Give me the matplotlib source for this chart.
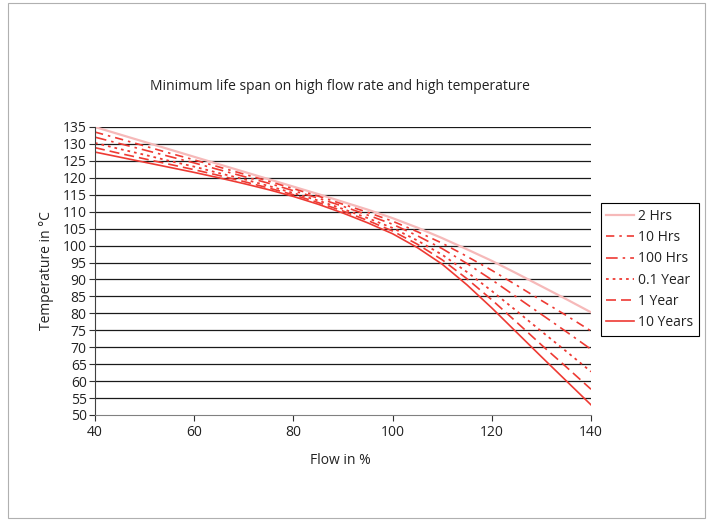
import matplotlib
matplotlib.use("Agg")
import matplotlib.pyplot as plt
from matplotlib.patches import Rectangle

# flow in %
flow = [40, 45, 50, 55, 60, 65, 70, 75, 80, 85, 90, 95, 100, 105, 110,
        115, 120, 125, 130, 135, 140]

# temperature (deg C) per life span
hrs_2 = [135.0, 132.8, 130.6, 128.4, 126.2, 124.0, 121.8, 119.6, 117.4, 115.2,
         112.9, 110.6, 108.1, 105.3, 102.2, 98.9, 95.5, 91.8, 88.0, 84.2, 80.3]
hrs_10 = [133.5, 131.5, 129.4, 127.3, 125.3, 123.2, 121.1, 119.0, 116.8, 114.6,
          112.2, 109.8, 107.2, 104.1, 100.7, 96.8, 92.7, 88.3, 83.8, 79.4, 74.8]
hrs_100 = [132.0, 130.1, 128.2, 126.3, 124.4, 122.4, 120.4, 118.4, 116.2, 114.0,
           111.6, 109.0, 106.3, 102.9, 99.1, 94.7, 89.9, 84.8, 79.7, 74.6, 69.4]
year_01 = [130.3, 128.5, 126.8, 125.0, 123.3, 121.4, 119.6, 117.6, 115.5, 113.3,
           110.8, 108.1, 105.2, 101.5, 97.3, 92.2, 86.6, 80.7, 74.7, 68.8, 62.8]
year_1 = [128.9, 127.2, 125.6, 124.0, 122.4, 120.7, 118.9, 117.0, 115.0, 112.7,
          110.2, 107.4, 104.3, 100.4, 95.8, 90.2, 84.0, 77.4, 70.7, 64.2, 57.6]
year_10 = [127.6, 126.1, 124.6, 123.1, 121.6, 120.0, 118.3, 116.5, 114.5, 112.2,
           109.6, 106.7, 103.5, 99.4, 94.5, 88.4, 81.6, 74.4, 67.2, 60.1, 53.0]

labels = ["2 Hrs", "10 Hrs", "100 Hrs", "0.1 Year", "1 Year", "10 Years"]
x_ticks = [40, 60, 80, 100, 120, 140]
y_ticks = list(range(50, 136, 5))

plt.rcParams['font.family'] = ['Open Sans', 'DejaVu Sans']

RED = '#ee3a33'
PINK = '#f6b9b9'

fig = plt.figure(figsize=(7.13, 5.2), dpi=100)
fig.patches.append(Rectangle((8 / 713, 2 / 520), 697 / 713, 515 / 520,
                             transform=fig.transFigure, fill=False,
                             edgecolor='#b0b0b0', linewidth=0.8))

ax = fig.add_axes([95 / 713, 105 / 520, 496 / 713, 288 / 520])

styles = [
    (hrs_2, PINK, '-', 1.6),
    (hrs_10, RED, (0, (5, 3, 1.5, 3)), 1.2),
    (hrs_100, RED, (0, (7, 3, 1.5, 3)), 1.2),
    (year_01, RED, (0, (1.5, 2.2)), 1.3),
    (year_1, RED, (0, (6, 3)), 1.2),
    (year_10, RED, '-', 1.2),
]
for (vals, col, ls, lw), lab in zip(styles, labels):
    ax.plot(flow, vals, color=col, linestyle=ls, linewidth=lw, label=lab)

ax.set_xlim(40, 140)
ax.set_ylim(50, 135)
ax.set_xticks(x_ticks)
ax.set_yticks(y_ticks)
for y in y_ticks[1:]:
    ax.axhline(y, color='#1a1a1a', linewidth=0.9, zorder=0)

for s in ['top', 'right']:
    ax.spines[s].set_visible(False)
ax.spines['left'].set_color('#404040')
ax.spines['bottom'].set_color('#808080')
ax.tick_params(axis='both', direction='out', length=4, width=0.8,
               colors='#303030', labelsize=10, labelcolor='#222222')
ax.tick_params(axis='y', pad=2)

fig.text(340 / 713, 1 - 87 / 520,
         'Minimum life span on high flow rate and high temperature',
         ha='center', va='center', fontsize=10, color='#222222')
fig.text(340 / 713, 1 - 460 / 520, 'Flow in %', ha='center', va='center',
         fontsize=10, color='#222222')
fig.text(46 / 713, 1 - 271 / 520, 'Temperature in °C', ha='center',
         va='center', rotation=90, fontsize=10, color='#222222')

leg = ax.legend(loc='center', bbox_to_anchor=(650 / 713, 1 - 269.5 / 520),
                bbox_transform=fig.transFigure, fontsize=10, frameon=True,
                fancybox=False, framealpha=1, edgecolor='black',
                handlelength=2.0, handletextpad=0.3, labelspacing=0.45,
                borderpad=0.4, borderaxespad=0)
leg.get_frame().set_linewidth(0.8)
for t in leg.get_texts():
    t.set_color('#222222')

fig.savefig('out.png', dpi=100)
